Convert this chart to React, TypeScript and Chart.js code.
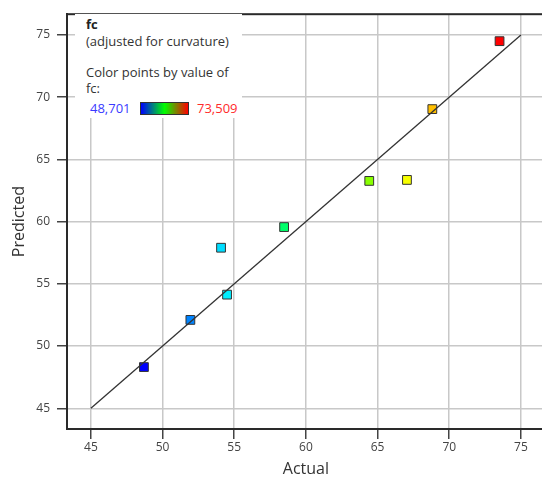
import React, { useEffect, useRef } from "react";
import { Chart, registerables } from "chart.js";

Chart.register(...registerables);

const actual = [48.70, 51.94, 54.08, 54.50, 58.48, 64.42, 67.05, 68.82, 73.51];
const predicted = [48.31, 52.10, 57.90, 54.13, 59.56, 63.27, 63.35, 69.04, 74.50];
const diagonal = [45, 75];
const tickValues = [45, 50, 55, 60, 65, 70, 75];
const axisMin = 43.333;
const axisMax = 76.667;
const colorMin = 48.701;
const colorMax = 73.509;
const colorMinLabel = "48,701";
const colorMaxLabel = "73,509";

function colorFor(v: number): string {
  const t = Math.max(0, Math.min(1, (v - colorMin) / (colorMax - colorMin)));
  const hue = 240 * (1 - t);
  return `hsl(${hue.toFixed(0)}, 100%, 50%)`;
}

const frame = {
  id: "frame",
  afterDraw(chart: any) {
    const { ctx, chartArea: a } = chart;
    ctx.save();
    ctx.strokeStyle = "#2a2a2a";
    ctx.lineWidth = 2;
    ctx.strokeRect(a.left, a.top, a.right - a.left, a.bottom - a.top);
    ctx.restore();
  },
};

export default function App() {
  const ref = useRef<HTMLCanvasElement | null>(null);
  useEffect(() => {
    if (!ref.current) return;
    const tickFont = { family: "'Open Sans', sans-serif", size: 12 };
    const setTicks = (scale: any) => {
      scale.ticks = tickValues.map((v) => ({ value: v }));
    };
    const chart = new Chart(ref.current, {
      type: "scatter",
      data: {
        datasets: [
          {
            type: "line",
            data: [
              { x: diagonal[0], y: diagonal[0] },
              { x: diagonal[1], y: diagonal[1] },
            ],
            borderColor: "#333",
            borderWidth: 1.3,
            pointRadius: 0,
            fill: false,
          } as any,
          {
            data: actual.map((x, i) => ({ x, y: predicted[i] })),
            pointStyle: "rect",
            pointRadius: 6.2,
            pointBackgroundColor: actual.map(colorFor),
            pointBorderColor: "#333",
            pointBorderWidth: 1,
          },
        ],
      },
      options: {
        responsive: false,
        animation: false,
        layout: { padding: { top: 5, right: 7, left: 0, bottom: 0 } },
        plugins: { legend: { display: false }, tooltip: { enabled: false } },
        scales: {
          x: {
            type: "linear",
            min: axisMin,
            max: axisMax,
            afterBuildTicks: setTicks,
            afterFit: (s: any) => {
              s.height = 53;
            },
            grid: {
              color: "#c8c8c8",
              lineWidth: 1.5,
              tickLength: 10,
              tickColor: "#444",
              tickWidth: 1.5,
            },
            border: { display: true, color: "#2a2a2a", width: 2 },
            ticks: { font: tickFont, color: "#444", padding: 1, autoSkip: false, maxRotation: 0 },
            title: {
              display: true,
              text: "Actual",
              font: { family: "'Open Sans', sans-serif", size: 16 },
              color: "#333",
              padding: { top: 0, bottom: 3 },
            },
          },
          y: {
            type: "linear",
            min: axisMin,
            max: axisMax,
            afterBuildTicks: setTicks,
            afterFit: (s: any) => {
              s.width = 67;
            },
            grid: {
              color: "#c8c8c8",
              lineWidth: 1.5,
              tickLength: 10,
              tickColor: "#444",
              tickWidth: 1.5,
            },
            border: { display: true, color: "#2a2a2a", width: 2 },
            ticks: { font: tickFont, color: "#444", padding: 7, autoSkip: false },
            title: {
              display: true,
              text: "Predicted",
              font: { family: "'Open Sans', sans-serif", size: 16 },
              color: "#333",
              padding: { top: 10, bottom: 0 },
            },
          },
        },
      },
      plugins: [frame],
    });
    return () => chart.destroy();
  }, []);

  const txt: React.CSSProperties = {
    position: "absolute",
    fontFamily: "'Open Sans', sans-serif",
    fontSize: 13,
    lineHeight: "16px",
    whiteSpace: "nowrap",
    color: "#333",
  };

  return (
    <div
      style={{
        position: "fixed",
        left: 0,
        top: 0,
        width: 542,
        height: 482,
        overflow: "hidden",
        background: "#fff",
      }}
    >
      <canvas ref={ref} width={552} height={482} style={{ width: 552, height: 482, display: "block" }} />
      <div style={{ position: "absolute", left: 75, top: 14, width: 167, height: 104, background: "#fff" }} />
      <div style={{ ...txt, left: 86, top: 16, fontWeight: 700, color: "#222" }}>fc</div>
      <div style={{ ...txt, left: 86, top: 33 }}>(adjusted for curvature)</div>
      <div style={{ ...txt, left: 86, top: 64 }}>Color points by value of</div>
      <div style={{ ...txt, left: 86, top: 80 }}>fc:</div>
      <div style={{ ...txt, left: 90, top: 100, color: "#3a3aff" }}>{colorMinLabel}</div>
      <div
        style={{
          position: "absolute",
          left: 140,
          top: 102,
          width: 47,
          height: 11,
          border: "1px solid #333",
          background: "linear-gradient(to right, #0000ff, #00ff00, #ff0000)",
        }}
      />
      <div style={{ ...txt, left: 197, top: 100, color: "#ff2a2a" }}>{colorMaxLabel}</div>
    </div>
  );
}
